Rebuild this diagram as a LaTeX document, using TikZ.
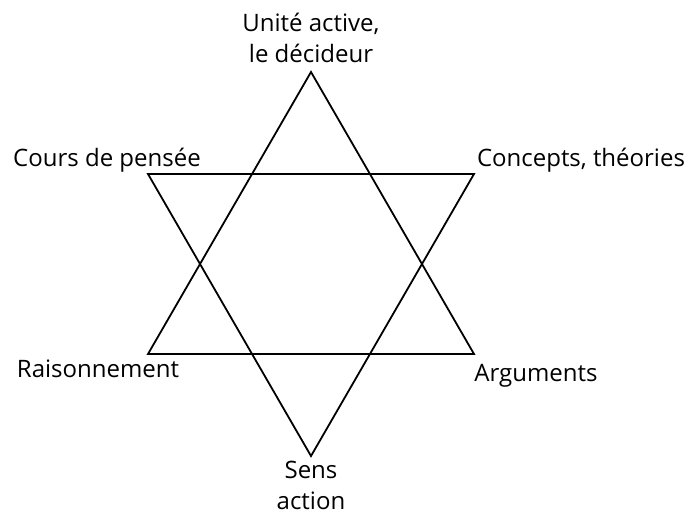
\documentclass[tikz,border=0pt]{standalone}
\usepackage{fontspec}
\setmainfont{Open Sans}
\begin{document}
\begin{tikzpicture}[x=1pt,y=-1pt,
  edge/.style={line width=1.8pt,line join=miter},
  lbl/.style={font=\fontsize{24}{31}\selectfont,inner sep=0pt,align=center}]
\useasboundingbox (0,0) rectangle (689,517);
\coordinate (T) at (311,72);
\coordinate (BL) at (148,354);
\coordinate (BR) at (474,354);
\coordinate (TL) at (148,174);
\coordinate (TR) at (474,174);
\coordinate (B) at (311,456);
\draw[edge] (T) -- (BR) -- (BL) -- cycle;
\draw[edge] (TL) -- (TR) -- (B) -- cycle;
\node[lbl,anchor=base] (ua) at (311,62) {Unité active,\\le décideur};
\node[lbl,anchor=base] (cp) at (107,166) {Cours de pensée};
\node[lbl,anchor=base] (ct) at (581,166) {Concepts, théories};
\node[lbl,anchor=base] (ra) at (98,377) {Raisonnement};
\node[lbl,anchor=base] (ar) at (536,381) {Arguments};
\node[lbl,anchor=base] (sa) at (311,509) {Sens\\action};
\end{tikzpicture}
\end{document}
